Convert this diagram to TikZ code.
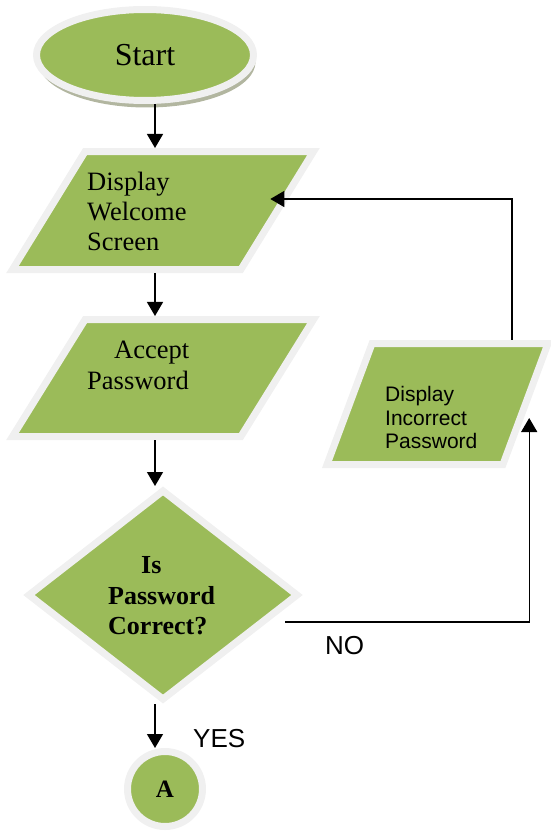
\documentclass[tikz,border=0pt]{standalone}
\usepackage{fontspec}
\setmainfont{Liberation Serif}
\setsansfont{Liberation Sans}
\usetikzlibrary{positioning,shapes.geometric,arrows.meta,shadows}
\definecolor{flowgreen}{RGB}{155,187,89}
\definecolor{rimgray}{RGB}{240,240,240}
\definecolor{shadowgray}{RGB}{178,182,160}
\tikzset{
	shp/.style={fill=flowgreen,draw=rimgray,line width=7pt,inner sep=1pt},
	iobox/.style={shp,trapezium,trapezium stretches=true},
	serlab/.style={font=\fontsize{26.5}{30}\selectfont,anchor=base west,inner sep=0pt},
	declab/.style={font=\fontsize{26}{30}\selectfont\bfseries,anchor=base west,inner sep=0pt},
	sanlab/.style={font=\sffamily\fontsize{21}{24}\selectfont,anchor=base west,inner sep=0pt},
	arr/.style={-{Triangle[width=16pt,length=14pt]},line width=1.4pt},
}

\begin{document}
\begin{tikzpicture}[x=1pt,y=-1pt]
		\useasboundingbox (0,0) rectangle (550,832);
		\node[shp,ellipse,minimum width=217pt,minimum height=91pt,font=\fontsize{32}{38}\selectfont,
			drop shadow={fill=shadowgray,opacity=1,shadow xshift=2pt,shadow yshift=-7pt}] (start) at (145,55) {Start};
		\node[iobox,trapezium left angle=65,trapezium right angle=115,minimum width=301pt,minimum height=118pt] (wel) at (163,210.5) {};
		\node[iobox,trapezium left angle=65,trapezium right angle=115,minimum width=301pt,minimum height=117pt] (acc) at (163,378) {};
		\node[iobox,trapezium left angle=71,trapezium right angle=109,minimum width=221pt,minimum height=121pt] (inc) at (437.5,404) {};
		\node[shp,diamond,minimum width=271pt,minimum height=211pt] (dec) at (163,595) {};
		\node[shp,circle,minimum size=75pt,font=\fontsize{25}{30}\selectfont\bfseries] (conA) at (165,789) {A};
		
		% texts
		\foreach \txt [count=\i] in {Display,Welcome,Screen}
			\node[serlab] (wel\i) at (87,160+30*\i) {\txt};
		\node[serlab] (acc1) at (114,358) {Accept};
		\node[serlab] (acc2) at (87,389) {Password};
		\foreach \txt [count=\i] in {Display,Incorrect,Password}
			\node[sanlab] (inc\i) at (385,378+23.5*\i) {\txt};
		\node[declab] (dec1) at (141,573) {Is};
		\node[declab] (dec2) at (108,604) {Password};
		\node[declab] (dec3) at (108,634) {Correct?};
		\node[sanlab,font=\sffamily\fontsize{26}{30}\selectfont] (yes) at (193,747) {YES};
		\node[sanlab,font=\sffamily\fontsize{26}{30}\selectfont] (no) at (325,654) {NO};
		
		% connectors
		\coordinate (spine) at (155,0);
		\coordinate (nost) at (285,622);
		\coordinate (backx) at (512,0);
		\draw[arr] (spine |- start.south)--(spine |- wel.north);
		\draw[arr] (spine |- wel.south)--(spine |- acc.north);
		\draw[arr] (spine |- acc.south)--(spine |- dec.north);
		\draw[arr] (spine |- dec.south)--(spine |- conA.north);
		\draw[arr] (nost) -| ([yshift=-14pt]inc.east);
		\draw[arr] (backx |- inc.north) |- ([xshift=-11pt,yshift=11.5pt]wel.east);
	\end{tikzpicture}
\end{document}
